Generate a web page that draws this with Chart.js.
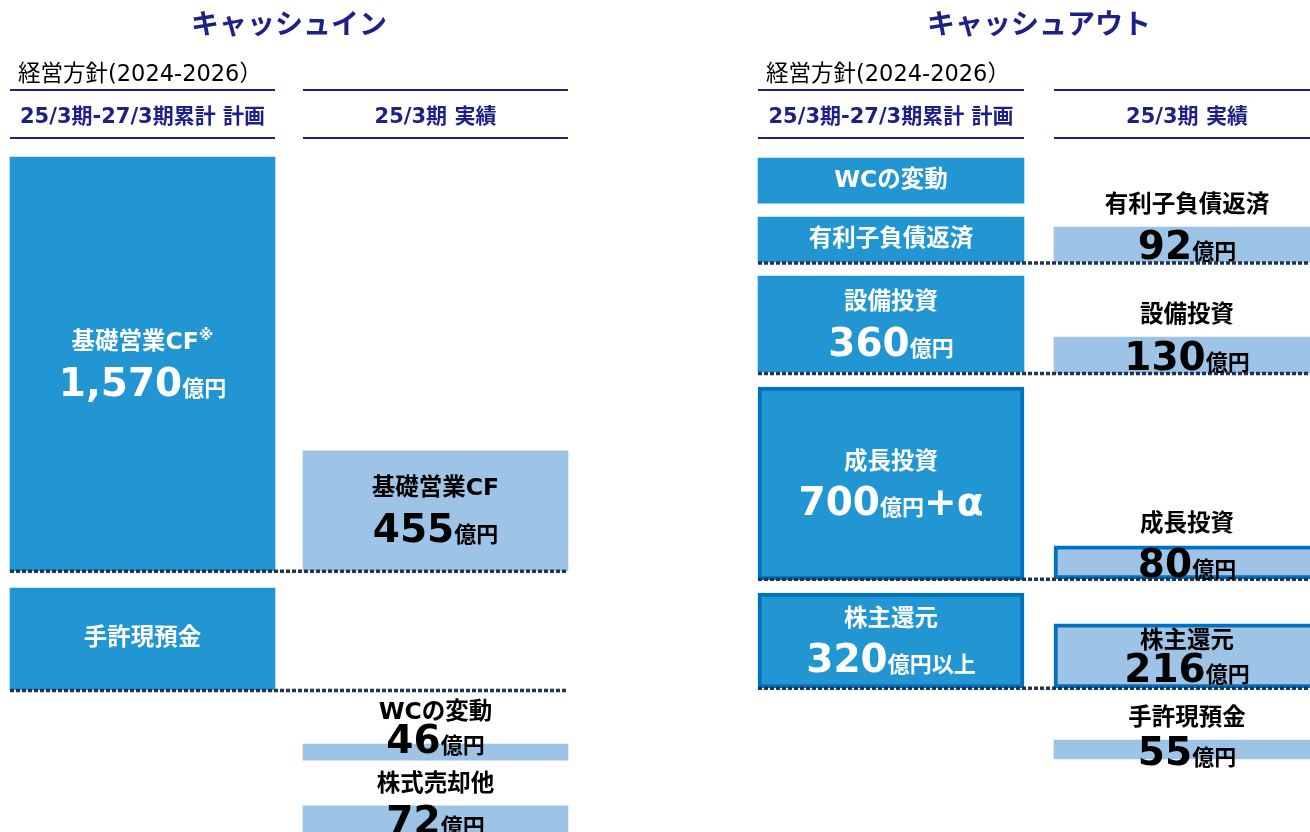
<!DOCTYPE html>
<html lang="ja">
<head>
<meta charset="utf-8">
<script src="https://cdn.jsdelivr.net/npm/chart.js@4.4.1/dist/chart.umd.min.js"></script>
<style>
html, body { margin: 0; padding: 0; background: #fff; }
body { width: 1310px; height: 832px; overflow: hidden; position: relative; }
canvas { position: absolute; top: 0; }
#cashIn { left: -4px; }
#cashOut { left: 743px; }
</style>
</head>
<body>
<canvas id="cashIn" width="586" height="832"></canvas>
<canvas id="cashOut" width="592" height="832"></canvas>
<script>
// vertical axis in 億円, running downward
var AXIS_MIN = -596, AXIS_MAX = 2562;
var columns = ['計画', '実績'];

// cash in
var inPlanNames = ['基礎営業CF※', '手許現預金'];
var inPlanValues = [1570, null];
var inPlanRanges = [[0, 1570], [1636, 2023]];
var inActualNames = ['基礎営業CF', 'WCの変動', '株式売却他'];
var inActualValues = [455, 46, 72];
var inActualRanges = [[1115, 1570], [2228, 2289], [2463, 2562]];
var inDividers = [1572, 2025];

// cash out
var outPlanNames = ['WCの変動', '有利子負債返済', '設備投資', '成長投資', '株主還元'];
var outPlanValues = [null, null, 360, 700, 320];
var outPlanNotes = ['', '', '', '+α', '以上'];
var outPlanRanges = [[4, 175], [228, 398], [452, 816], [873, 1605], [1655, 2015]];
var outActualNames = ['有利子負債返済', '設備投資', '成長投資', '株主還元', '手許現預金'];
var outActualValues = [92, 130, 80, 216, 55];
var outActualRanges = [[266, 398], [683, 820], [1476, 1601], [1772, 2015], [2213, 2285]];
var outDividers = [402, 822, 1603, 2016];

var PLAN_BLUE = '#2196d3', ACTUAL_BLUE = '#9dc3e6', EDGE_BLUE = '#0070c0';
var NAVY = '#1d2088', DOT = '#1f3553';
var FONT = '"DejaVu Sans", "Noto Sans CJK JP", sans-serif';
var highlighted = ['成長投資', '株主還元'];

function barSet(name, value, note, col, range, width) {
  var data = col === 0 ? [range, null] : [null, range];
  var hi = highlighted.indexOf(name) >= 0;
  return {
    label: name, data: data, value: value, note: note || '', col: col,
    backgroundColor: col === 0 ? PLAN_BLUE : ACTUAL_BLUE,
    borderColor: EDGE_BLUE, borderWidth: hi ? 4 : 0, borderSkipped: false,
    grouped: false, barThickness: width
  };
}

function buildSets(pn, pv, pnotes, pr, an, av, ar, width) {
  var sets = [];
  pn.forEach(function(n, i) { sets.push(barSet(n, pv[i], pnotes ? pnotes[i] : '', 0, pr[i], width)); });
  an.forEach(function(n, i) { sets.push(barSet(n, av[i], '', 1, ar[i], width)); });
  return sets;
}

function drawName(ctx, name, cx, cy, color) {
  var mark = name.slice(-1) === '※';
  var main = mark ? name.slice(0, -1) : name;
  ctx.font = 'bold 23.5px ' + FONT;
  ctx.fillStyle = color;
  ctx.textBaseline = 'middle';
  var w = ctx.measureText(main).width;
  var mw = 0;
  if (mark) { ctx.font = 'bold 15px ' + FONT; mw = ctx.measureText('※').width; }
  var x0 = cx - (w + mw) / 2;
  ctx.textAlign = 'left';
  ctx.font = 'bold 23.5px ' + FONT;
  ctx.fillText(main, x0, cy);
  if (mark) { ctx.font = 'bold 15px ' + FONT; ctx.fillText('※', x0 + w, cy - 7); }
}

function drawValue(ctx, value, note, cx, cy, color) {
  var parts = [{ t: value.toLocaleString('en-US'), s: 39 }, { t: '億円', s: 22 }];
  if (note === '+α') parts.push({ t: note, s: 39 });
  else if (note) parts.push({ t: note, s: 22 });
  var total = 0;
  parts.forEach(function(p) { ctx.font = 'bold ' + p.s + 'px ' + FONT; p.w = ctx.measureText(p.t).width; total += p.w; });
  var x = cx - total / 2, base = cy + 14;
  ctx.fillStyle = color;
  ctx.textAlign = 'left';
  ctx.textBaseline = 'alphabetic';
  parts.forEach(function(p) { ctx.font = 'bold ' + p.s + 'px ' + FONT; ctx.fillText(p.t, x, base); x += p.w; });
}

function panelPlugin(title, dividers, width) {
  return {
    id: 'panelText',
    afterDatasetsDraw: function(chart) {
      var ctx = chart.ctx, xs = chart.scales.x, ys = chart.scales.y;
      var half = width / 2;
      var centers = [xs.getPixelForValue(0), xs.getPixelForValue(1)];
      var left = centers[0] - half, right = centers[1] + half;
      ctx.save();

      // title
      ctx.font = 'bold 28px ' + FONT;
      ctx.fillStyle = NAVY;
      ctx.textAlign = 'center';
      ctx.textBaseline = 'middle';
      ctx.fillText(title, (left + right) / 2, 27);

      // headers
      ctx.font = '22.5px ' + FONT;
      ctx.fillStyle = '#000';
      ctx.textAlign = 'left';
      ctx.fillText('経営方針(2024-2026）', left + 8, 75);
      ctx.strokeStyle = NAVY;
      ctx.lineWidth = 2;
      centers.forEach(function(c) {
        [90, 138].forEach(function(py) {
          ctx.beginPath(); ctx.moveTo(c - half, py); ctx.lineTo(c + half, py); ctx.stroke();
        });
      });
      ctx.font = 'bold 21px ' + FONT;
      ctx.fillStyle = NAVY;
      ctx.textAlign = 'center';
      ctx.fillText('25/3期-27/3期累計 計画', centers[0], 118);
      ctx.fillText('25/3期 実績', centers[1], 118);

      // dotted dividers
      ctx.setLineDash([4, 2]);
      ctx.lineWidth = 3.5;
      ctx.strokeStyle = DOT;
      dividers.forEach(function(v) {
        var py = ys.getPixelForValue(v);
        ctx.beginPath(); ctx.moveTo(left, py); ctx.lineTo(right, py); ctx.stroke();
      });
      ctx.setLineDash([]);

      // block labels
      chart.data.datasets.forEach(function(ds) {
        var r = ds.data[ds.col];
        var top = ys.getPixelForValue(r[0]), bottom = ys.getPixelForValue(r[1]);
        var cy = (top + bottom) / 2, cx = centers[ds.col], h = bottom - top;
        if (ds.col === 0) {
          if (ds.value == null) { drawName(ctx, ds.label, cx, cy, '#fff'); }
          else { drawName(ctx, ds.label, cx, cy - 21, '#fff'); drawValue(ctx, ds.value, ds.note, cx, cy + 18, '#fff'); }
        } else {
          if (h > 90) { drawName(ctx, ds.label, cx, cy - 22, '#000'); drawValue(ctx, ds.value, ds.note, cx, cy + 17, '#000'); }
          else if (h > 50) { drawName(ctx, ds.label, cx, cy - 14, '#000'); drawValue(ctx, ds.value, ds.note, cx, cy + 12, '#000'); }
          else if (h > 18) { drawName(ctx, ds.label, cx, top - 21, '#000'); drawValue(ctx, ds.value, ds.note, cx, cy + 1, '#000'); }
          else { drawName(ctx, ds.label, cx, top - 31, '#000'); drawValue(ctx, ds.value, ds.note, cx, top - 5, '#000'); }
        }
      });
      ctx.restore();
    }
  };
}

function makeChart(id, title, sets, dividers, width) {
  return new Chart(document.getElementById(id), {
    type: 'bar',
    data: { labels: columns, datasets: sets },
    options: {
      responsive: false, animation: false, devicePixelRatio: 1,
      layout: { padding: 0 },
      plugins: { legend: { display: false }, tooltip: { enabled: false } },
      scales: {
        x: { display: false },
        y: { display: false, reverse: true, min: AXIS_MIN, max: AXIS_MAX }
      }
    },
    plugins: [panelPlugin(title, dividers, width)]
  });
}

makeChart('cashIn', 'キャッシュイン',
  buildSets(inPlanNames, inPlanValues, null, inPlanRanges, inActualNames, inActualValues, inActualRanges, 265),
  inDividers, 265);
makeChart('cashOut', 'キャッシュアウト',
  buildSets(outPlanNames, outPlanValues, outPlanNotes, outPlanRanges, outActualNames, outActualValues, outActualRanges, 266),
  outDividers, 266);
</script>
</body>
</html>
